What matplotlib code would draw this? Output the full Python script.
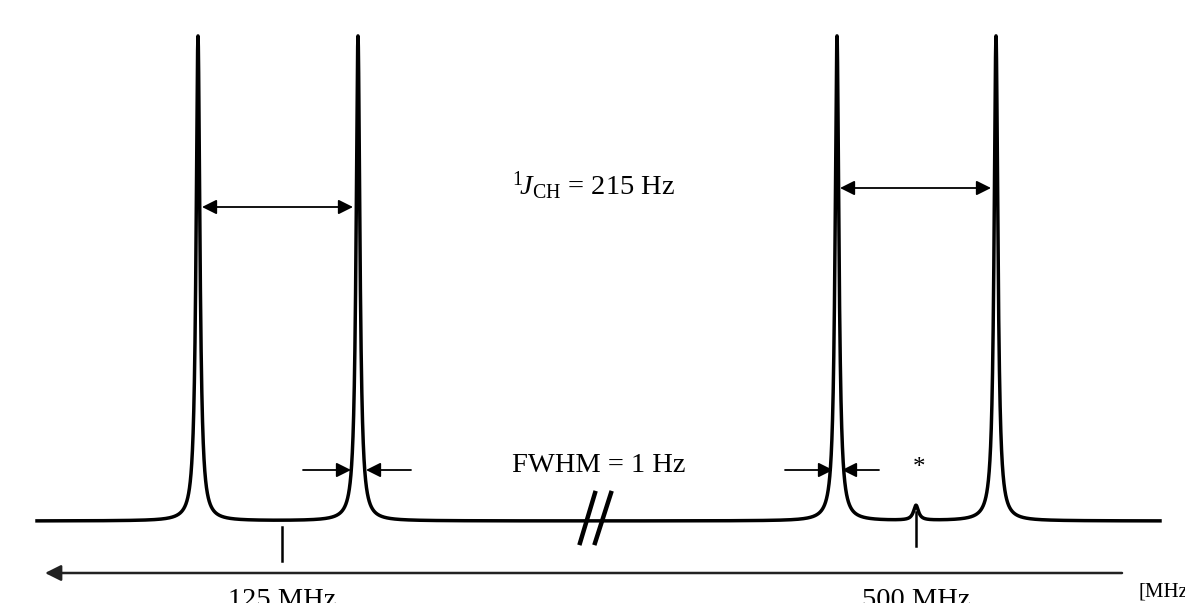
import numpy as np
import matplotlib.pyplot as plt

# ===============================
# Fontes (Times-like)
# ===============================
plt.rcParams["font.family"] = ["Liberation Serif", "DejaVu Serif"]
plt.rcParams["mathtext.fontset"] = "custom"
plt.rcParams["mathtext.rm"] = "Liberation Serif"
plt.rcParams["mathtext.it"] = "Liberation Serif:italic"

# ===============================
# Dados do espectro esquemático (unidades de desenho)
# ===============================
linha_base = 521.0
x_inicio, x_fim = 37.0, 1160.0

centros_picos = [198.0, 358.0, 837.0, 996.0]
alturas_picos = [485.0, 485.0, 485.0, 485.0]
meia_largura = [2.3, 2.3, 2.3, 2.3]

# pequeno sinal marcado com *
centro_sinal = 916.0
altura_sinal = 15.0
largura_sinal = 3.0

# posições de referência no eixo de frequência
x_125 = 282.0
x_500 = 916.0

# ===============================
# Curva de Lorentzianas
# ===============================
x = np.linspace(x_inicio, x_fim, 40000)
y = np.full_like(x, linha_base)
for c, h, g in zip(centros_picos, alturas_picos, meia_largura):
    y -= h * g**2 / ((x - c) ** 2 + g**2)
y -= altura_sinal * largura_sinal**2 / ((x - centro_sinal) ** 2 + largura_sinal**2)

fig = plt.figure(figsize=(11.85, 6.03), dpi=100)
ax = fig.add_axes([0, 0, 1, 1])
ax.set_xlim(0, 1185)
ax.set_ylim(603, 0)
ax.axis("off")

ax.plot(x, y, color="black", linewidth=2.5, solid_joinstyle="round")


def seta(x0, y0, x1, y1, estilo="-|>", lw=1.3):
    ax.annotate("", xy=(x1, y1), xytext=(x0, y0),
                arrowprops=dict(arrowstyle=estilo, color="black", lw=lw,
                                mutation_scale=22, shrinkA=0, shrinkB=0))


# ----- acoplamento J -----
seta(202, 207, 353, 207, estilo="<|-|>")
seta(840, 188, 991, 188, estilo="<|-|>")
ax.text(594, 186, r"${}^{1}\!J_{\mathrm{CH}}$ = 215 Hz", fontsize=20.5,
        ha="center", va="center")

# ----- largura a meia altura -----
seta(303, 470, 351, 470)
seta(411, 470, 366, 470)
seta(785, 470, 833, 470)
seta(879, 470, 842, 470)
ax.text(599, 465, "FWHM = 1 Hz", fontsize=20.5, ha="center", va="center")
ax.text(919, 468, "*", fontsize=18, ha="center", va="center")

# ----- quebra de eixo -----
ax.plot([580, 595], [543, 493], color="black", linewidth=3.2)
ax.plot([595, 611], [543, 493], color="black", linewidth=3.2)

# ----- marcadores de frequência -----
ax.plot([x_125, x_125], [527, 561], color="black", linewidth=1.8)
ax.plot([x_500, x_500], [512, 546], color="black", linewidth=1.8)

# ----- eixo de frequência -----
ax.annotate("", xy=(45, 573), xytext=(1122, 573),
            arrowprops=dict(arrowstyle="-|>", color="#222222", lw=1.8,
                            mutation_scale=24, shrinkA=0, shrinkB=0))
ax.text(x_125, 588, "125 MHz", fontsize=20.5, ha="center", va="top")
ax.text(x_500, 588, "500 MHz", fontsize=20.5, ha="center", va="top")
ax.text(1139, 597, "[MHz]", fontsize=15, ha="left", va="baseline")

fig.savefig("out.png", dpi=100, facecolor="white")
